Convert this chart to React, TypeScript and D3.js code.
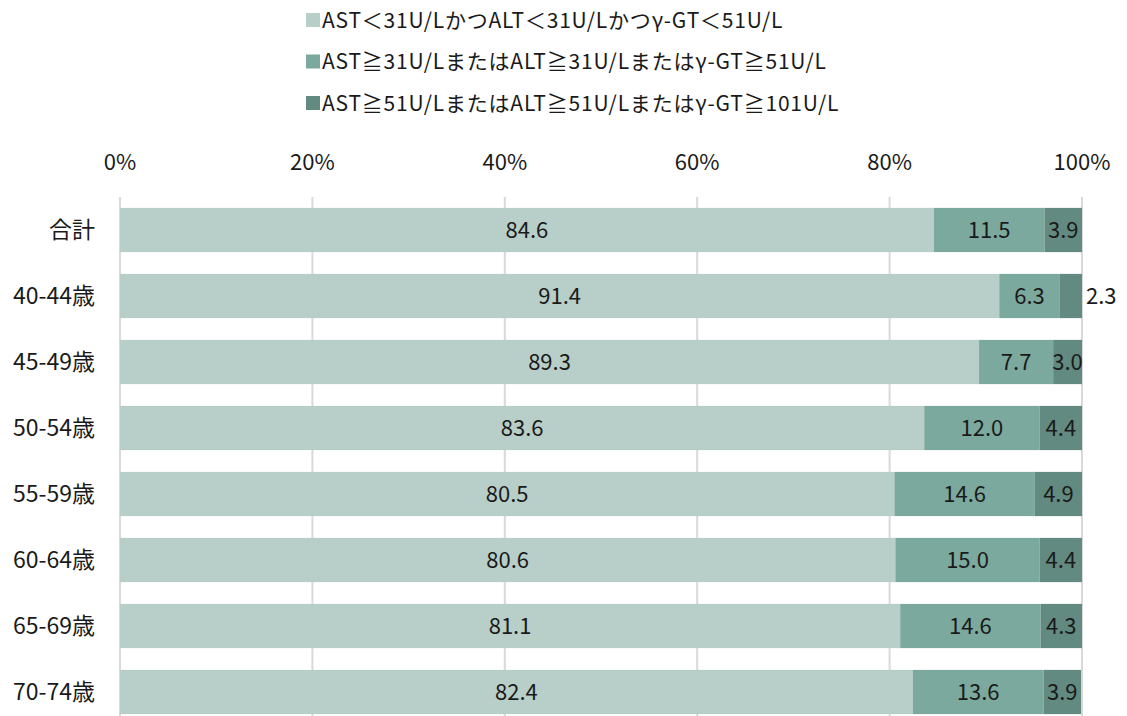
import React from "react";
import * as d3 from "d3";

// Age groups (rows) and the share (%) in each liver-function band
const categories = ["合計", "40-44歳", "45-49歳", "50-54歳", "55-59歳", "60-64歳", "65-69歳", "70-74歳"];
const normal = [84.6, 91.4, 89.3, 83.6, 80.5, 80.6, 81.1, 82.4];
const mild = [11.5, 6.3, 7.7, 12.0, 14.6, 15.0, 14.6, 13.6];
const severe = [3.9, 2.3, 3.0, 4.4, 4.9, 4.4, 4.3, 3.9];

const seriesNames = [
  "AST＜31U/LかつALT＜31U/Lかつγ-GT＜51U/L",
  "AST≧31U/LまたはALT≧31U/Lまたはγ-GT≧51U/L",
  "AST≧51U/LまたはALT≧51U/Lまたはγ-GT≧101U/L",
];
const seriesColors = ["#b8cec8", "#7ca99d", "#628a80"];
const xTicks = [0, 20, 40, 60, 80, 100];

const W = 1127;
const H = 716;
const FONT = "'Noto Sans CJK JP', 'Noto Sans', sans-serif";
const INK = "#1a1a1a";

export default function App() {
  const x = d3.scaleLinear().domain([0, 100]).range([120, 1082]);
  const y = d3
    .scaleBand<string>()
    .domain(categories)
    .range([197, 725])
    .paddingInner(0.33)
    .paddingOuter(0.165);

  const rows = categories.map((c, i) => ({ cat: c, normal: normal[i], mild: mild[i], severe: severe[i] }));
  const stack = d3.stack<any>().keys(["normal", "mild", "severe"]);
  const layers = stack(rows);

  return (
    <svg width={W} height={H} style={{ position: "absolute", left: 0, top: 0 }} fontFamily={FONT}>
      <rect width={W} height={H} fill="#fff" />

      {/* legend */}
      {seriesNames.map((name, i) => (
        <g key={name} transform={`translate(306, ${20 + i * 41.5})`}>
          <rect x={0} y={-7} width={14} height={14} fill={seriesColors[i]} />
          <text x={16} y={0} dy="0.36em" fontSize={21} letterSpacing={0.8} fill={INK}>
            {name}
          </text>
        </g>
      ))}

      {/* x axis tick labels */}
      {xTicks.map((t) => (
        <text key={t} x={x(t)} y={162} dy="0.36em" textAnchor="middle" fontSize={22} fill={INK}>
          {t}%
        </text>
      ))}

      {/* gridlines */}
      {xTicks.map((t) => (
        <line key={t} x1={x(t)} x2={x(t)} y1={197} y2={H} stroke="#d9d9d9" strokeWidth={2} />
      ))}

      {/* category labels */}
      {categories.map((c) => (
        <text
          key={c}
          x={95}
          y={(y(c) as number) + y.bandwidth() / 2}
          dy="0.36em"
          textAnchor="end"
          fontSize={23}
          fill={INK}
        >
          {c}
        </text>
      ))}

      {/* stacked bars */}
      {layers.map((layer, li) => (
        <g key={layer.key}>
          {layer.map((d) => {
            const cat = d.data.cat as string;
            const x0 = x(d[0]);
            const x1 = x(d[1]);
            const yy = y(cat) as number;
            const v = d[1] - d[0];
            const inside = v >= 2.5;
            return (
              <g key={cat}>
                <rect x={x0} y={yy} width={x1 - x0} height={y.bandwidth()} fill={seriesColors[li]} />
                <text
                  x={inside ? (x0 + x1) / 2 : x(100) + 4}
                  y={yy + y.bandwidth() / 2}
                  dy="0.36em"
                  textAnchor={inside ? "middle" : "start"}
                  fontSize={22}
                  fill={INK}
                >
                  {(d.data[layer.key] as number).toFixed(1)}
                </text>
              </g>
            );
          })}
        </g>
      ))}
    </svg>
  );
}
